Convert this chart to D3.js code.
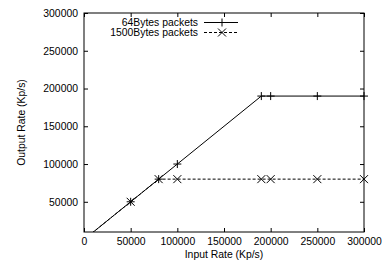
<!DOCTYPE html>
<html>
<head>
<meta charset="utf-8">
<script src="https://cdn.jsdelivr.net/npm/d3@7"></script>
<style>
  body { margin: 0; background: #fff; }
  text { font-family: "Liberation Sans", Arial, sans-serif; font-size: 10.4px; fill: #000; }
</style>
</head>
<body>
<div id="chart"></div>
<script>
// data
var inputRate = [0, 50000, 80000, 100000, 190000, 200000, 250000, 300000];
var small = [0, 50000, 80000, 100000, 190000, 190000, 190000, 190000];   // 64Bytes
var large = [0, 50000, 80000, 80000, 80000, 80000, 80000, 80000];        // 1500Bytes
var xTicks = [0, 50000, 100000, 150000, 200000, 250000, 300000];
var yTicks = [50000, 100000, 150000, 200000, 250000, 300000];
var names = ["64Bytes packets", "1500Bytes packets"];

var W = 386, H = 267;
var pL = 84, pR = 364, pT = 13, pB = 232;

var svg = d3.select("#chart").append("svg")
  .attr("width", W)
  .attr("height", H);

var x = d3.scaleLinear().domain([0, 300000]).range([pL, pR]);
var y = d3.scaleLinear().domain([10000, 300000]).range([pB, pT]);

svg.append("clipPath").attr("id", "clip")
  .append("rect")
  .attr("x", pL).attr("y", pT)
  .attr("width", pR - pL).attr("height", pB - pT);

// axes, gnuplot style ticks pointing in, mirrored
var tk = 4;
svg.append("g").attr("transform", "translate(0," + pB + ")")
  .call(d3.axisBottom(x).tickValues(xTicks).tickSizeInner(-tk).tickSizeOuter(0).tickPadding(6).tickFormat(d3.format("d")));
svg.append("g").attr("transform", "translate(0," + pT + ")")
  .call(d3.axisTop(x).tickValues(xTicks).tickSizeInner(-tk).tickSizeOuter(0).tickFormat(""));
svg.append("g").attr("transform", "translate(" + pL + ",0)")
  .call(d3.axisLeft(y).tickValues(yTicks).tickSizeInner(-tk).tickSizeOuter(0).tickPadding(6).tickFormat(d3.format("d")));
svg.append("g").attr("transform", "translate(" + pR + ",0)")
  .call(d3.axisRight(y).tickValues(yTicks).tickSizeInner(-tk).tickSizeOuter(0).tickFormat(""));

svg.selectAll(".domain").remove();
svg.selectAll(".tick line").attr("stroke", "#000");
svg.selectAll(".tick text").style("font-family", "Liberation Sans, Arial, sans-serif").style("font-size", "10.4px").attr("fill", "#000");

svg.append("rect")
  .attr("x", pL).attr("y", pT)
  .attr("width", pR - pL).attr("height", pB - pT)
  .attr("fill", "none").attr("stroke", "#000").attr("stroke-width", 1);

// labels
svg.append("text")
  .attr("x", (pL + pR) / 2).attr("y", 258)
  .attr("text-anchor", "middle")
  .text("Input Rate (Kp/s)");
svg.append("text")
  .attr("transform", "translate(25," + (pT + pB) / 2 + ") rotate(-90)")
  .attr("text-anchor", "middle")
  .text("Output Rate (Kp/s)");

var line = d3.line()
  .x(function(d, i) { return x(inputRate[i]); })
  .y(function(d) { return y(d); });

var plot = svg.append("g").attr("clip-path", "url(#clip)");

plot.append("path").datum(large)
  .attr("d", line)
  .attr("fill", "none").attr("stroke", "#000").attr("stroke-width", 1)
  .attr("stroke-dasharray", "3,2");
plot.append("path").datum(small)
  .attr("d", line)
  .attr("fill", "none").attr("stroke", "#000").attr("stroke-width", 1);

var m = 4;
function plus(g, cx, cy) {
  g.append("path")
    .attr("d", "M" + (cx - m) + "," + cy + "H" + (cx + m) + "M" + cx + "," + (cy - m) + "V" + (cy + m))
    .attr("stroke", "#000").attr("fill", "none");
}
function cross(g, cx, cy) {
  g.append("path")
    .attr("d", "M" + (cx - m) + "," + (cy - m) + "L" + (cx + m) + "," + (cy + m) + "M" + (cx - m) + "," + (cy + m) + "L" + (cx + m) + "," + (cy - m))
    .attr("stroke", "#000").attr("fill", "none");
}

var marks = svg.append("g");
small.forEach(function(d, i) {
  if (d >= 10000) plus(marks, x(inputRate[i]), y(d));
});
large.forEach(function(d, i) {
  if (d >= 10000) cross(marks, x(inputRate[i]), y(d));
});

// legend
var lg = svg.append("g");
[0, 1].forEach(function(i) {
  var ly = 22.5 + i * 10;
  lg.append("text")
    .attr("x", 198).attr("y", ly).attr("dy", "0.35em")
    .attr("text-anchor", "end")
    .text(names[i]);
  lg.append("line")
    .attr("x1", 204).attr("x2", 238).attr("y1", ly).attr("y2", ly)
    .attr("stroke", "#000")
    .attr("stroke-dasharray", i ? "3,2" : null);
  if (i) cross(lg, 222, ly); else plus(lg, 222, ly);
});
</script>
</body>
</html>
